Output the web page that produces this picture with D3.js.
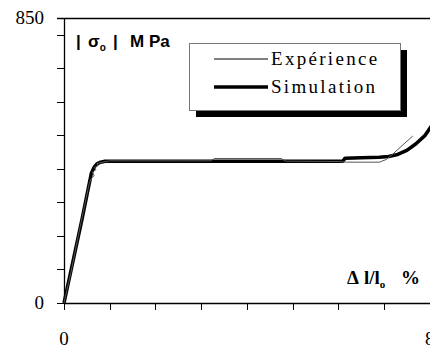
<!DOCTYPE html>
<html>
<head>
<meta charset="utf-8">
<script src="https://cdn.jsdelivr.net/npm/d3@7"></script>
<style>
  body { margin: 0; background: #fff; }
  svg { display: block; }
</style>
</head>
<body>
<div id="chart"></div>
<script>
var width = 430,
    height = 349;

// strain (%) / stress (MPa)
var simStrain = [0, 0.39, 0.6, 0.66, 0.72, 0.8, 0.9, 1.5, 3, 4.5, 6.1, 6.15, 6.5, 6.9, 7.1, 7.3, 7.5, 7.7, 7.9, 8.05];
var simStress = [0, 247, 388, 405, 415, 420, 423, 423, 423, 423, 423, 432, 433, 435, 437, 443, 455, 475, 500, 530];

var expStrain = [0, 0.15, 0.35, 0.55, 0.6, 0.66, 0.62, 0.7, 0.66, 0.75, 0.72, 0.85, 1.0, 1.5, 2.5, 3.2, 3.3, 4.75, 4.85, 6.0, 6.2, 6.9, 7.05, 7.2, 7.4, 7.63];
var expStress = [0, 90, 225, 355, 372, 380, 390, 398, 404, 410, 416, 420, 424, 424, 424, 424, 431, 431, 423, 422, 420, 420, 428, 445, 470, 498];

var xTicks = [0, 1, 2, 3, 4, 5, 6, 7, 8];
var yTicks = [0, 100, 200, 300, 400, 500, 600, 700, 800, 850];
var xLabels = [0, 8];
var yLabels = [0, 850];

var legendNames = ['Expérience', 'Simulation'];

var svg = d3.select('#chart')
    .append('svg')
    .attr('width', width)
    .attr('height', height);

var xScale = d3.scaleLinear().domain([0, 8]).range([64, 429.7]);
var yScale = d3.scaleLinear().domain([0, 850]).range([303, 18]);

// Frame: left axis, top line, bottom axis
svg.append('line')
    .attr('x1', 64.5).attr('x2', 64.5)
    .attr('y1', yScale(850)).attr('y2', yScale(0))
    .attr('stroke', '#000').attr('stroke-width', 1.3);
svg.append('line')
    .attr('x1', 57).attr('x2', width)
    .attr('y1', yScale(850) + 0.5).attr('y2', yScale(850) + 0.5)
    .attr('stroke', '#000').attr('stroke-width', 1.3);
svg.append('line')
    .attr('x1', 64).attr('x2', width)
    .attr('y1', yScale(0) + 0.5).attr('y2', yScale(0) + 0.5)
    .attr('stroke', '#000').attr('stroke-width', 1.3);

// Y ticks
svg.selectAll('.ytick')
    .data(yTicks)
    .enter()
    .append('line')
    .attr('class', 'ytick')
    .attr('x1', 57).attr('x2', 64)
    .attr('y1', d => Math.round(yScale(d)) + 0.5)
    .attr('y2', d => Math.round(yScale(d)) + 0.5)
    .attr('stroke', '#000').attr('stroke-width', 1);

// X ticks
svg.selectAll('.xtick')
    .data(xTicks)
    .enter()
    .append('line')
    .attr('class', 'xtick')
    .attr('x1', d => Math.round(xScale(d)) + 0.5)
    .attr('x2', d => Math.round(xScale(d)) + 0.5)
    .attr('y1', 303).attr('y2', 310)
    .attr('stroke', '#000').attr('stroke-width', 1);

// Tick labels
svg.selectAll('.ylab')
    .data(yLabels)
    .enter()
    .append('text')
    .attr('class', 'ylab')
    .attr('x', 44)
    .attr('y', d => yScale(d) + 6)
    .attr('text-anchor', 'end')
    .style('font-family', '"Liberation Serif", "Times New Roman", serif')
    .style('font-size', '19px')
    .text(d => d);

svg.selectAll('.xlab')
    .data(xLabels)
    .enter()
    .append('text')
    .attr('class', 'xlab')
    .attr('x', d => xScale(d))
    .attr('y', 345)
    .attr('text-anchor', 'middle')
    .style('font-family', '"Liberation Serif", "Times New Roman", serif')
    .style('font-size', '19px')
    .text(d => d);

// Curves
var line = d3.line()
    .x(d => xScale(d[0]))
    .y(d => yScale(d[1]));

var expData = expStrain.map((d, i) => [d, expStress[i]]);
var simData = simStrain.map((d, i) => [d, simStress[i]]);

svg.append('path')
    .datum(simData)
    .attr('d', line)
    .attr('fill', 'none')
    .attr('stroke', '#000')
    .attr('stroke-width', 3.5)
    .attr('stroke-linejoin', 'round');

svg.append('path')
    .datum(expData)
    .attr('d', line)
    .attr('fill', 'none')
    .attr('stroke', '#555')
    .attr('stroke-width', 1)
    .attr('stroke-linejoin', 'round');

// Axis titles
var yTitle = svg.append('text')
    .attr('y', 47)
    .style('font-family', '"Liberation Sans", Arial, sans-serif')
    .style('font-weight', 'bold')
    .style('font-size', '17px');
yTitle.append('tspan').attr('x', 76).text('|');
yTitle.append('tspan').attr('x', 88).text('σ');
yTitle.append('tspan').attr('dy', 4).style('font-size', '10px').text('o');
yTitle.append('tspan').attr('x', 113).attr('dy', -4).text('|');
yTitle.append('tspan').attr('x', 130).text('M');
yTitle.append('tspan').attr('x', 149).text('Pa');

var xTitle = svg.append('text')
    .attr('y', 284)
    .style('font-family', '"Liberation Serif", "Times New Roman", serif')
    .style('font-weight', 'bold')
    .style('font-size', '19px');
xTitle.append('tspan').attr('x', 347).text('Δ');
xTitle.append('tspan').attr('x', 364).text('l/l');
xTitle.append('tspan').attr('dy', 4).style('font-size', '11px').text('o');
xTitle.append('tspan').attr('x', 401).attr('dy', -4).text('%');

// Legend with drop shadow
var legend = svg.append('g');
legend.append('rect')
    .attr('x', 196).attr('y', 50)
    .attr('width', 211).attr('height', 67)
    .attr('fill', '#000');
legend.append('rect')
    .attr('x', 189.5).attr('y', 43.5)
    .attr('width', 211).attr('height', 67)
    .attr('fill', '#fff')
    .attr('stroke', '#777')
    .attr('stroke-width', 1);

legend.selectAll('.lline')
    .data(legendNames)
    .enter()
    .append('line')
    .attr('x1', 214).attr('x2', 268)
    .attr('y1', (d, i) => 59 + i * 28)
    .attr('y2', (d, i) => 59 + i * 28)
    .attr('stroke', '#000')
    .attr('stroke-width', (d, i) => i === 0 ? 1 : 3.5);

legend.selectAll('.ltext')
    .data(legendNames)
    .enter()
    .append('text')
    .attr('x', 271)
    .attr('y', (d, i) => 65 + i * 28)
    .style('font-family', '"Liberation Serif", "Times New Roman", serif')
    .style('font-size', '19px')
    .style('letter-spacing', '2.3px')
    .text(d => d);
</script>
</body>
</html>
